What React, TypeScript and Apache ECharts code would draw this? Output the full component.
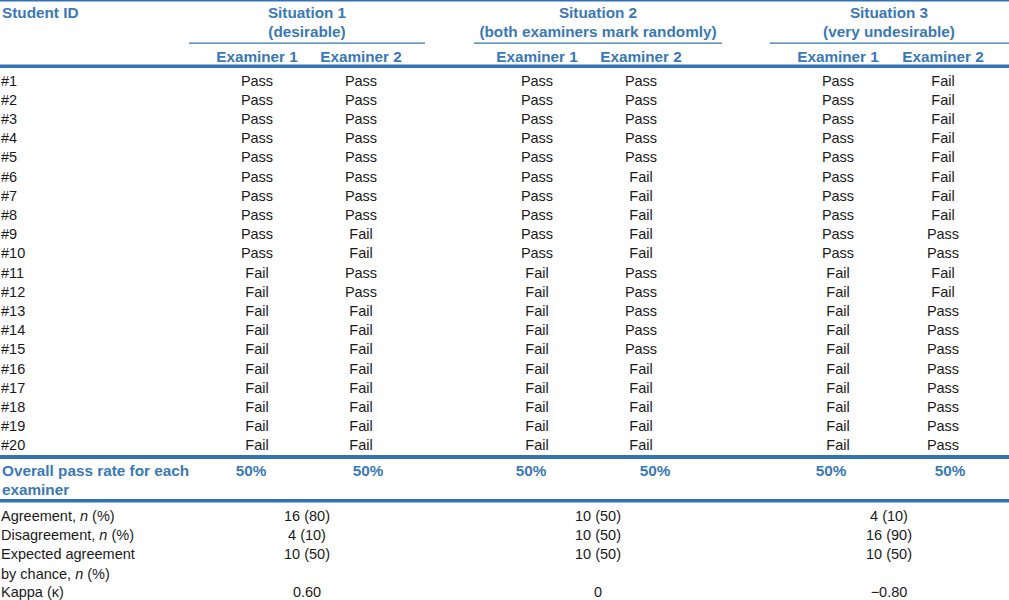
import React, { useEffect, useRef } from "react";
import * as echarts from "echarts";

const studentIds = ["#1", "#2", "#3", "#4", "#5", "#6", "#7", "#8", "#9", "#10", "#11", "#12", "#13", "#14", "#15", "#16", "#17", "#18", "#19", "#20"];
const situationTitles = ["Situation 1", "Situation 2", "Situation 3"];
const situationSubtitles = ["(desirable)", "(both examiners mark randomly)", "(very undesirable)"];
const examinerLabels = ["Examiner 1", "Examiner 2"];

const sit1Ex1 = ["Pass", "Pass", "Pass", "Pass", "Pass", "Pass", "Pass", "Pass", "Pass", "Pass", "Fail", "Fail", "Fail", "Fail", "Fail", "Fail", "Fail", "Fail", "Fail", "Fail"];
const sit1Ex2 = ["Pass", "Pass", "Pass", "Pass", "Pass", "Pass", "Pass", "Pass", "Fail", "Fail", "Pass", "Pass", "Fail", "Fail", "Fail", "Fail", "Fail", "Fail", "Fail", "Fail"];
const sit2Ex1 = ["Pass", "Pass", "Pass", "Pass", "Pass", "Pass", "Pass", "Pass", "Pass", "Pass", "Fail", "Fail", "Fail", "Fail", "Fail", "Fail", "Fail", "Fail", "Fail", "Fail"];
const sit2Ex2 = ["Pass", "Pass", "Pass", "Pass", "Pass", "Fail", "Fail", "Fail", "Fail", "Fail", "Pass", "Pass", "Pass", "Pass", "Pass", "Fail", "Fail", "Fail", "Fail", "Fail"];
const sit3Ex1 = ["Pass", "Pass", "Pass", "Pass", "Pass", "Pass", "Pass", "Pass", "Pass", "Pass", "Fail", "Fail", "Fail", "Fail", "Fail", "Fail", "Fail", "Fail", "Fail", "Fail"];
const sit3Ex2 = ["Fail", "Fail", "Fail", "Fail", "Fail", "Fail", "Fail", "Fail", "Pass", "Pass", "Fail", "Fail", "Pass", "Pass", "Pass", "Pass", "Pass", "Pass", "Pass", "Pass"];

const passRateLabel = ["Overall pass rate for each", "examiner"];
const passRates = ["50%", "50%", "50%", "50%", "50%", "50%"];

const agreement = ["16 (80)", "10 (50)", "4 (10)"];
const disagreement = ["4 (10)", "10 (50)", "16 (90)"];
const expectedByChance = ["10 (50)", "10 (50)", "10 (50)"];
const kappa = ["0.60", "0", "\u22120.80"];

const BLUE_TEXT = "#3a78b7";
const BLUE_LINE = "#3473b3";
const BLACK = "#1a1a1a";
const FONT = "'Liberation Sans', Arial, sans-serif";

export default function App() {
  const ref = useRef<HTMLDivElement>(null);

  useEffect(() => {
    document.body.style.margin = "0";
    if (!ref.current) return;
    const chart = echarts.init(ref.current, null, { renderer: "svg" });

    const colCenters = [257, 361, 537, 641, 838, 943];
    const groupCenters = [307, 598, 889];
    const groupLines = [[189, 425], [474, 722], [770, 1009]];
    const rateCenters = [251, 368, 531, 655, 831, 950];
    const columns = [sit1Ex1, sit1Ex2, sit2Ex1, sit2Ex2, sit3Ex1, sit3Ex2];
    const rowStart = 80.5;
    const rowStep = 19.2;
    const bodyFont = `14.5px ${FONT}`;
    const italicFont = `italic 14.5px ${FONT}`;
    const bold = `bold 15.3px ${FONT}`;

    const els: any[] = [];
    const txt = (text: string, x: number, y: number, opts: any = {}) => {
      els.push({
        type: "text",
        x,
        y,
        silent: true,
        style: {
          text,
          fill: opts.fill || BLACK,
          font: opts.font || bodyFont,
          align: opts.align || "left",
          verticalAlign: "middle",
          rich: opts.rich,
        },
      });
    };
    const rect = (x: number, y: number, w: number, h: number) => {
      els.push({ type: "rect", silent: true, shape: { x, y, width: w, height: h }, style: { fill: BLUE_LINE } });
    };

    rect(0, 0, 1009, 1.5);
    txt("Student ID", 2, 12, { fill: BLUE_TEXT, font: bold });
    situationTitles.forEach((t, i) => {
      txt(t, groupCenters[i], 12, { fill: BLUE_TEXT, font: bold, align: "center" });
      txt(situationSubtitles[i], groupCenters[i], 31, { fill: BLUE_TEXT, font: bold, align: "center" });
      rect(groupLines[i][0], 42.5, groupLines[i][1] - groupLines[i][0], 1.2);
    });
    colCenters.forEach((c, i) => {
      txt(examinerLabels[i % 2], c, 56, { fill: BLUE_TEXT, font: bold, align: "center" });
    });
    rect(0, 64.5, 1009, 3.5);

    studentIds.forEach((id, r) => {
      const y = rowStart + r * rowStep;
      txt(id, 1, y);
      columns.forEach((col, c) => txt(col[r], colCenters[c], y, { align: "center" }));
    });

    rect(0, 455, 1009, 4);
    txt(passRateLabel[0], 2, 470, { fill: BLUE_TEXT, font: bold });
    txt(passRateLabel[1], 2, 489, { fill: BLUE_TEXT, font: bold });
    passRates.forEach((p, i) => txt(p, rateCenters[i], 470, { fill: BLUE_TEXT, font: bold, align: "center" }));
    rect(0, 499, 1009, 3.5);

    const rich = {
      a: { font: bodyFont, fill: BLACK },
      i: { font: italicFont, fill: BLACK },
    };
    const summaryRows: [string, any, string[], number][] = [
      ["{a|Agreement, }{i|n}{a| (%)}", rich, agreement, 516],
      ["{a|Disagreement, }{i|n}{a| (%)}", rich, disagreement, 535],
      ["Expected agreement", undefined, expectedByChance, 554],
      ["Kappa (\u03ba)", undefined, kappa, 592],
    ];
    summaryRows.forEach(([lab, r, vals, y]) => {
      txt(lab, 1, y, { rich: r });
      vals.forEach((v, i) => txt(v, groupCenters[i], y, { align: "center" }));
    });
    txt("{a|by chance, }{i|n}{a| (%)}", 1, 574, { rich });

    chart.setOption({ animation: false, graphic: { elements: els } });
    return () => chart.dispose();
  }, []);

  return <div ref={ref} style={{ width: 1009, height: 600 }} />;
}
